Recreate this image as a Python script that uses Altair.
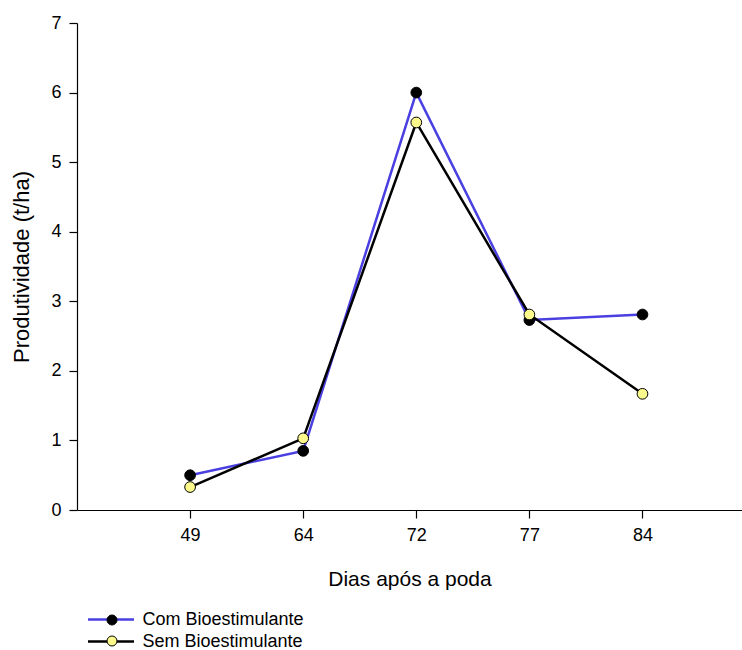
import altair as alt
import pandas as pd

days = ["49", "64", "72", "77", "84"]
com = [0.50, 0.85, 6.00, 2.73, 2.81]
sem = [0.33, 1.03, 5.57, 2.81, 1.67]
series_names = ["Com Bioestimulante", "Sem Bioestimulante"]

BLUE = "#4a3fe0"
YELLOW = "#fbf88c"
FONT = "Liberation Sans"

rows = []
for i, d in enumerate(days):
    rows.append({"pos": i + 1, "dia": d, "serie": series_names[0], "serie_pt": series_names[0], "valor": com[i]})
    rows.append({"pos": i + 1, "dia": d, "serie": series_names[1], "serie_pt": series_names[1], "valor": sem[i]})
df = pd.DataFrame(rows)

label_expr = "[" + ",".join(["''"] + [f"'{d}'" for d in days]) + "][round(datum.value)]"

x = alt.X(
    "pos:Q",
    scale=alt.Scale(domain=[0, 5.88], nice=False, zero=False),
    axis=alt.Axis(
        values=[1, 2, 3, 4, 5], labelExpr=label_expr, title="Dias após a poda",
        grid=False, tickSize=8, labelPadding=8, titlePadding=24,
        labelFontSize=18, titleFontSize=21, titleFontWeight="normal",
        labelFont=FONT, titleFont=FONT, domainColor="black", tickColor="black",
        labelColor="black", titleColor="black", domainWidth=1.2, tickWidth=1.2,
    ),
)
y = alt.Y(
    "valor:Q",
    scale=alt.Scale(domain=[0, 7], nice=False),
    axis=alt.Axis(
        values=list(range(8)), title="Produtividade (t/ha)", grid=False,
        tickSize=8, labelPadding=8, titlePadding=17, labelFontSize=18,
        titleFontSize=22, titleFontWeight="normal", labelFont=FONT, titleFont=FONT,
        domainColor="black", tickColor="black", labelColor="black",
        titleColor="black", domainWidth=1.2, tickWidth=1.2,
    ),
)

lines = alt.Chart(df).mark_line(strokeWidth=2.5).encode(
    x=x, y=y,
    stroke=alt.Stroke(
        "serie:N",
        scale=alt.Scale(domain=series_names, range=[BLUE, "#000000"]),
        legend=alt.Legend(
            orient="none", legendX=22.5, legendY=585, title=None,
            symbolType="M-2.3,0L2.3,0", symbolSize=400, symbolStrokeWidth=2.5,
            labelFontSize=18, labelFont=FONT, labelColor="black", labelLimit=300,
            labelOffset=20, rowPadding=1, padding=0,
        ),
    ),
)

points = alt.Chart(df).mark_circle(size=115, opacity=1, stroke="black", strokeWidth=1).encode(
    x=x, y=y,
    fill=alt.Fill(
        "serie_pt:N",
        scale=alt.Scale(domain=series_names, range=["#000000", YELLOW]),
        legend=alt.Legend(
            orient="none", legendX=26, legendY=588, title=None,
            symbolType="circle", symbolSize=100, symbolStrokeColor="black",
            symbolStrokeWidth=1, symbolOpacity=1, labelLimit=300,
            labelFontSize=18, labelFont=FONT, labelExpr="''",
            labelOffset=9, rowPadding=3, padding=0,
        ),
    ),
)

chart = (
    alt.layer(lines, points)
    .resolve_scale(fill="independent", stroke="independent")
    .properties(
        width=665, height=487,
        background="white",
        autosize=alt.AutoSizeParams(type="none"),
        padding={"left": 77, "top": 23, "right": 0, "bottom": 140},
    )
    .configure_view(stroke=None)
)

chart.save("out.html", embed_options={"renderer": "svg", "actions": False})
